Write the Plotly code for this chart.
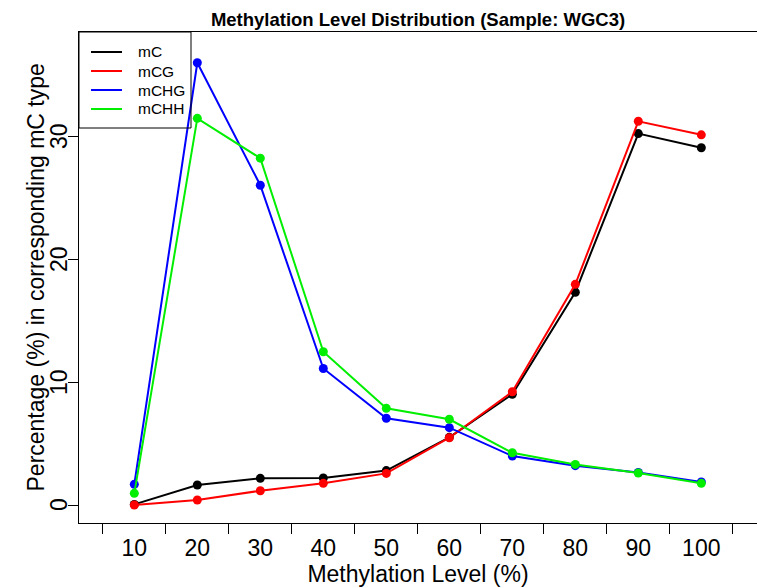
import plotly.graph_objects as go

# Methylation level bins (%)
levels = [10, 20, 30, 40, 50, 60, 70, 80, 90, 100]

# Percentage of each methylation context falling in each bin
mC = [0.05, 1.63, 2.17, 2.2, 2.8, 5.5, 9.0, 17.3, 30.2, 29.05]
mCG = [0.0, 0.41, 1.16, 1.76, 2.57, 5.47, 9.21, 17.94, 31.2, 30.1]
mCHG = [1.68, 35.96, 26.0, 11.1, 7.05, 6.29, 3.98, 3.2, 2.65, 1.88]
mCHH = [0.95, 31.44, 28.2, 12.46, 7.86, 6.97, 4.25, 3.3, 2.6, 1.76]

series = [("mC", mC, "#000000"), ("mCG", mCG, "#FF0000"),
          ("mCHG", mCHG, "#0000FF"), ("mCHH", mCHH, "#00EE00")]

yticks = [0, 10, 20, 30]
bin_edges = [5, 15, 25, 35, 45, 55, 65, 75, 85, 95, 105]

FONT = "Liberation Sans, Arial, Helvetica, sans-serif"
W, H = 757, 588
L, R, T, B = 79, 0, 32, 65

fig = go.Figure()
for name, vals, col in series:
    fig.add_trace(go.Scatter(
        x=levels, y=vals, name=name, mode="lines+markers",
        line=dict(color=col, width=2),
        marker=dict(color=col, size=9),
        showlegend=False, cliponaxis=False,
    ))

pw, ph = W - L - R, H - T - B
def px(x):
    return (x - L) / pw
def py(y):
    return 1 - (y - T) / ph

# Legend box in the upper-left corner of the plot
shapes = [dict(type="rect", xref="paper", yref="paper",
               x0=px(79), x1=px(191), y0=py(128), y1=py(32),
               line=dict(color="#000000", width=1), fillcolor="rgba(0,0,0,0)")]
annotations = []
row_y = [52, 71, 90, 109]
for (name, vals, col), yy in zip(series, row_y):
    shapes.append(dict(type="line", xref="paper", yref="paper",
                       x0=px(91), x1=px(122), y0=py(yy), y1=py(yy),
                       line=dict(color=col, width=2)))
    annotations.append(dict(xref="paper", yref="paper", x=px(136), y=py(yy),
                            text=name, showarrow=False, xanchor="left",
                            yanchor="middle",
                            font=dict(family=FONT, size=15.5, color="#000000")))

# Y tick labels, written parallel to the axis
for v in yticks:
    annotations.append(dict(xref="paper", yref="y", x=px(59), y=v,
                            text=str(v), showarrow=False, textangle=-90,
                            xanchor="center", yanchor="middle",
                            font=dict(family=FONT, size=23, color="#000000")))

# Y axis title
annotations.append(dict(xref="paper", yref="paper", x=px(35), y=0.5,
                        text="Percentage (%) in corresponding mC type",
                        showarrow=False, textangle=-90,
                        xanchor="center", yanchor="middle",
                        font=dict(family=FONT, size=23, color="#000000")))

fig.update_layout(
    width=W, height=H,
    margin=dict(l=L, r=R, t=T, b=B, pad=0),
    paper_bgcolor="white", plot_bgcolor="white",
    font=dict(family=FONT, size=23, color="#000000"),
    title=dict(text="<b>Methylation Level Distribution (Sample: WGC3)</b>",
               x=(L + W - R) / 2 / W, xanchor="center",
               y=1 - 20 / H, yanchor="middle",
               font=dict(family=FONT, size=18.5, color="#000000")),
    xaxis=dict(
        range=[1.22, 108.84], showgrid=False, zeroline=False,
        showline=True, linecolor="#000000", linewidth=1, mirror=True,
        tickmode="array", tickvals=levels, ticktext=[str(v) for v in levels],
        ticks="", ticklabelstandoff=4,
        minor=dict(tickmode="array", tickvals=bin_edges, ticks="outside",
                   ticklen=10, tickwidth=1, tickcolor="#000000"),
        title=dict(text="Methylation Level (%)", standoff=4,
                   font=dict(family=FONT, size=23)),
    ),
    yaxis=dict(
        range=[-1.463, 38.46], showgrid=False, zeroline=False,
        showline=True, linecolor="#000000", linewidth=1,
        tickmode="array", tickvals=yticks, ticks="outside", ticklen=10,
        tickwidth=1, tickcolor="#000000", showticklabels=False,
    ),
    shapes=shapes,
    annotations=annotations,
)

fig.write_html("out.html")
